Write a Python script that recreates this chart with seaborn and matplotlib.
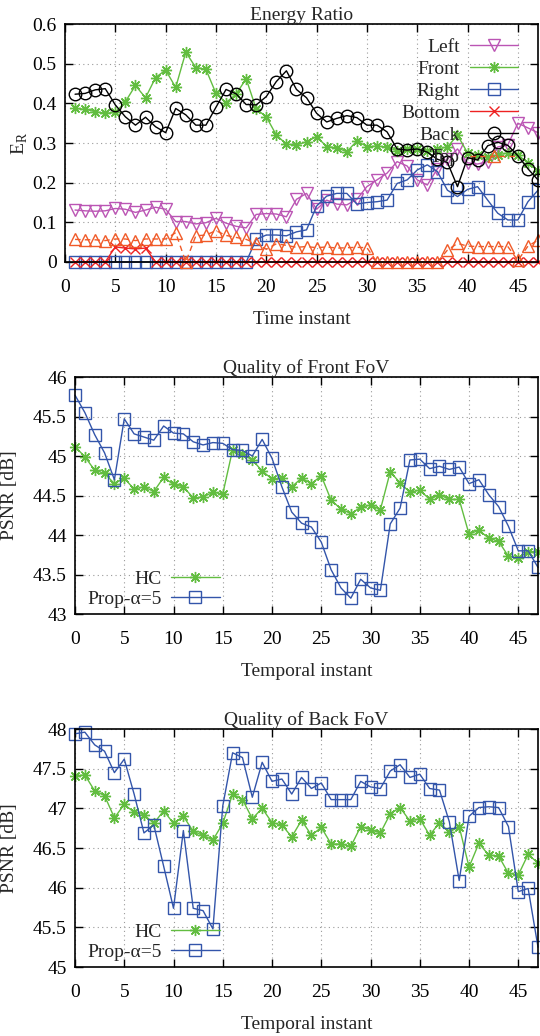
import matplotlib
matplotlib.use('Agg')
import matplotlib.pyplot as plt
import seaborn as sns

sns.set_theme(style='ticks')
plt.rcParams['font.family'] = ['Liberation Serif', 'DejaVu Serif']
plt.rcParams['mathtext.fontset'] = 'custom'
plt.rcParams['mathtext.rm'] = 'Liberation Serif'

# ---- data: energy ratio per face (t = 1..47)
t_energy = list(range(1, 48))
left = [0.131, 0.129, 0.128, 0.129, 0.135, 0.133, 0.125, 0.131, 0.138, 0.133,
        0.102, 0.102, 0.096, 0.099, 0.110, 0.098, 0.090, 0.086, 0.120, 0.122,
        0.121, 0.114, 0.158, 0.173, 0.133, 0.156, 0.146, 0.144, 0.158, 0.190,
        0.207, 0.224, 0.253, 0.242, 0.207, 0.194, 0.235, 0.260, 0.285, 0.250,
        0.247, 0.253, 0.290, 0.295, 0.350, 0.338, 0.326]
front = [0.387, 0.385, 0.379, 0.375, 0.377, 0.404, 0.445, 0.414, 0.465, 0.484,
         0.440, 0.529, 0.490, 0.486, 0.425, 0.402, 0.423, 0.462, 0.386, 0.366,
         0.320, 0.297, 0.295, 0.303, 0.316, 0.291, 0.288, 0.278, 0.305, 0.291,
         0.292, 0.290, 0.280, 0.285, 0.285, 0.280, 0.285, 0.290, 0.320, 0.275,
         0.270, 0.265, 0.270, 0.275, 0.270, 0.250, 0.230]
right = [0.0] * 18 + [
         0.057, 0.068, 0.068, 0.066, 0.076, 0.081, 0.141, 0.166, 0.173, 0.173,
         0.146, 0.150, 0.152, 0.156, 0.198, 0.207, 0.232, 0.245, 0.228, 0.181,
         0.165, 0.183, 0.190, 0.156, 0.123, 0.106, 0.106, 0.152, 0.181]
bottom = [0.0, 0.0, 0.0, 0.0, 0.038, 0.035, 0.033, 0.035] + [0.0] * 39
back = [0.423, 0.425, 0.434, 0.437, 0.396, 0.366, 0.345, 0.365, 0.341, 0.326,
        0.387, 0.371, 0.345, 0.345, 0.390, 0.435, 0.424, 0.397, 0.396, 0.417,
        0.455, 0.482, 0.435, 0.414, 0.375, 0.353, 0.362, 0.369, 0.364, 0.345,
        0.345, 0.328, 0.285, 0.282, 0.285, 0.277, 0.259, 0.251, 0.190, 0.263,
        0.257, 0.293, 0.302, 0.294, 0.268, 0.235, 0.207]
top = [0.057, 0.056, 0.056, 0.054, 0.058, 0.058, 0.054, 0.058, 0.058, 0.058,
       0.074, 0.000, 0.066, 0.068, 0.079, 0.067, 0.062, 0.057, 0.047, 0.032,
       0.046, 0.042, 0.037, 0.039, 0.036, 0.038, 0.035, 0.036, 0.037, 0.036,
       0.0, 0.0, 0.0, 0.0, 0.0, 0.0, 0.0,
       0.030, 0.047, 0.040, 0.039, 0.039, 0.039, 0.039, 0.004, 0.040, 0.055]

# ---- data: PSNR (t = 0..47)
t_psnr = list(range(0, 48))
front_hc = [45.12, 44.99, 44.82, 44.78, 44.65, 44.72, 44.58, 44.61, 44.55, 44.73,
            44.64, 44.61, 44.47, 44.48, 44.54, 44.52, 45.08, 45.02, 44.95, 44.81,
            44.71, 44.72, 44.61, 44.72, 44.65, 44.75, 44.44, 44.33, 44.27, 44.35,
            44.38, 44.32, 44.80, 44.66, 44.54, 44.57, 44.45, 44.51, 44.45, 44.45,
            44.01, 44.06, 43.96, 43.92, 43.73, 43.71, 43.79, 43.79]
front_prop = [45.77, 45.55, 45.27, 45.04, 44.70, 45.47, 45.28, 45.24, 45.20, 45.38,
              45.29, 45.28, 45.18, 45.14, 45.17, 45.16, 45.08, 45.07, 45.00, 45.21,
              44.97, 44.61, 44.29, 44.15, 44.10, 43.91, 43.56, 43.33, 43.20, 43.44,
              43.33, 43.30, 44.14, 44.34, 44.95, 44.96, 44.84, 44.87, 44.83, 44.86,
              44.65, 44.70, 44.51, 44.36, 44.11, 43.80, 43.80, 43.59]
back_hc = [47.41, 47.42, 47.22, 47.16, 46.88, 47.05, 46.95, 46.92, 46.81, 46.97,
           46.81, 46.90, 46.71, 46.66, 46.60, 46.81, 47.18, 47.11, 46.87, 47.00,
           46.82, 46.79, 46.64, 46.85, 46.66, 46.76, 46.55, 46.55, 46.52, 46.77,
           46.73, 46.69, 46.93, 47.01, 46.84, 46.87, 46.66, 46.82, 46.70, 46.77,
           46.26, 46.56, 46.41, 46.40, 46.18, 46.16, 46.42, 46.31]
back_prop = [47.94, 47.96, 47.80, 47.72, 47.45, 47.62, 47.18, 46.69, 46.79, 46.27,
             45.74, 46.72, 45.74, 45.71, 45.48, 47.03, 47.70, 47.64, 47.14, 47.58,
             47.34, 47.37, 47.18, 47.39, 47.25, 47.32, 47.11, 47.11, 47.11, 47.34,
             47.27, 47.25, 47.47, 47.55, 47.39, 47.43, 47.25, 47.23, 46.83, 46.09,
             46.90, 47.01, 47.02, 47.01, 46.77, 45.95, 45.99, 45.25]

x_ticks = [0, 5, 10, 15, 20, 25, 30, 35, 40, 45]
er_ticks = [0, 0.1, 0.2, 0.3, 0.4, 0.5, 0.6]
er_labels = ['0', '0.1', '0.2', '0.3', '0.4', '0.5', '0.6']
front_ticks = [43, 43.5, 44, 44.5, 45, 45.5, 46]
front_labels = ['43', '43.5', '44', '44.5', '45', '45.5', '46']
back_ticks = [45, 45.5, 46, 46.5, 47, 47.5, 48]
back_labels = ['45', '45.5', '46', '46.5', '47', '47.5', '48']

C_LEFT = '#bb55b4'
C_FRONT = '#62bd40'
C_RIGHT = '#3355aa'
C_BOTTOM = '#ee2222'
C_BACK = '#000000'
C_TOP = '#f05a28'
FS = 14


def draw(ax, x, y, label, color, marker, ls='-', ms=8):
    sns.lineplot(x=x, y=y, ax=ax, color=color, linewidth=1.0, linestyle=ls,
                 marker=marker, markersize=ms, markerfacecolor='none',
                 markeredgecolor=color, markeredgewidth=1.0, label=label,
                 clip_on=False, estimator=None, sort=False)


def style_axes(ax, yticks, ylabels, ylim, title, xlabel, ylabel, ylab_x):
    ax.set_xlim(0, 47)
    ax.set_ylim(*ylim)
    ax.set_xticks(x_ticks)
    ax.set_xticklabels([str(v) for v in x_ticks])
    ax.set_yticks(yticks)
    ax.set_yticklabels(ylabels)
    ax.tick_params(direction='in', length=6, width=1, top=True, right=True,
                   labelsize=FS, colors='black')
    ax.tick_params(axis='x', pad=12)
    ax.tick_params(axis='y', pad=6)
    ax.grid(True, color='#9a9a9a', linestyle=(0, (1, 3)), linewidth=0.8)
    for s in ax.spines.values():
        s.set_linewidth(1.2)
        s.set_color('black')
    ax.set_title(title, fontsize=FS, pad=3)
    ax.set_xlabel(xlabel, fontsize=FS, labelpad=11)
    ax.set_ylabel(ylabel, fontsize=FS)
    ax.yaxis.set_label_coords(ylab_x, 0.5)


fig = plt.figure(figsize=(5.4, 10.36), dpi=100)
ax1 = fig.add_axes([65 / 540, 1 - 262 / 1036, 473 / 540, 238 / 1036])
ax2 = fig.add_axes([75 / 540, 1 - 614 / 1036, 463 / 540, 237 / 1036])
ax3 = fig.add_axes([75 / 540, 1 - 967 / 1036, 463 / 540, 238 / 1036])

# energy ratio
draw(ax1, t_energy, left, 'Left', C_LEFT, 'v')
draw(ax1, t_energy, front, 'Front', C_FRONT, (8, 2, 0))
draw(ax1, t_energy, right, 'Right', C_RIGHT, 's')
draw(ax1, t_energy, bottom, 'Bottom', C_BOTTOM, 'x', ms=7)
draw(ax1, t_energy, back, 'Back', C_BACK, 'o', ms=9)
draw(ax1, t_energy, top, 'Top', C_TOP, '^', ls=(0, (4, 3)))
style_axes(ax1, er_ticks, er_labels, (0, 0.6), 'Energy Ratio', 'Time instant',
           r'E$_\mathrm{R}$', -0.075)
h, l = ax1.get_legend_handles_labels()
ax1.legend(h, l, loc='upper right', bbox_to_anchor=(0.958, 0.94), frameon=False,
           markerfirst=False, fontsize=FS, handlelength=2.5, handletextpad=0.5,
           labelspacing=0.23, borderpad=0, borderaxespad=0, numpoints=1)

# PSNR panels
for ax, hc, prop, yt, yl, ylim, title in [
        (ax2, front_hc, front_prop, front_ticks, front_labels, (43, 46), 'Quality of Front FoV'),
        (ax3, back_hc, back_prop, back_ticks, back_labels, (45, 48), 'Quality of Back FoV')]:
    draw(ax, t_psnr, hc, 'HC', C_FRONT, (8, 2, 0))
    draw(ax, t_psnr, prop, 'Prop-α=5', C_RIGHT, 's', ms=9)
    style_axes(ax, yt, yl, ylim, title, 'Temporal instant', 'PSNR [dB]', -0.123)
    h, l = ax.get_legend_handles_labels()
    ax.legend(h, l, loc='lower left', bbox_to_anchor=(0.026, 0.025), frameon=False,
              markerfirst=False, fontsize=FS, handlelength=2.5, handletextpad=0.5,
              labelspacing=0.12, borderpad=0, borderaxespad=0, numpoints=1)

fig.savefig('out.png', dpi=100)
